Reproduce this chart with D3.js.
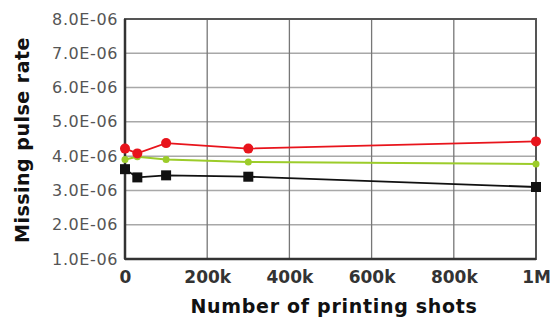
<!DOCTYPE html>
<html><head><meta charset="utf-8">
<script src="https://cdn.jsdelivr.net/npm/d3@7"></script>
<style>body{margin:0;background:#fff}</style>
</head><body>
<svg id="c" width="555" height="320"></svg>
<script>
const shots = [0, 30000, 100000, 300000, 1000000];
const redSeries = [4.22e-6, 4.08e-6, 4.38e-6, 4.22e-6, 4.43e-6];
const greenSeries = [3.9e-6, 3.98e-6, 3.9e-6, 3.83e-6, 3.77e-6];
const blackSeries = [3.62e-6, 3.38e-6, 3.44e-6, 3.4e-6, 3.1e-6];
const yTicks = [1e-6, 2e-6, 3e-6, 4e-6, 5e-6, 6e-6, 7e-6, 8e-6];
const xTicks = [0, 200000, 400000, 600000, 800000, 1000000];
const xTickLabels = ["0", "200k", "400k", "600k", "800k", "1M"];

const svg = d3.select("#c");
const L = 125, R = 536, T = 19, B = 259;
const x = d3.scaleLinear().domain([0, 1000000]).range([L, R]);
const y = d3.scaleLinear().domain([1e-6, 8e-6]).range([B, T]);

// grid
svg.append("g").selectAll("line").data(yTicks).join("line")
  .attr("x1", L).attr("x2", R).attr("y1", d => y(d)).attr("y2", d => y(d))
  .attr("stroke", "#a8a8a8").attr("stroke-width", 1.5);
svg.append("g").selectAll("line").data(xTicks).join("line")
  .attr("y1", T).attr("y2", B).attr("x1", d => x(d)).attr("x2", d => x(d))
  .attr("stroke", "#777").attr("stroke-width", 1.3);

// frame
svg.append("rect").attr("x", L).attr("y", T).attr("width", R - L).attr("height", B - T)
  .attr("fill", "none").attr("stroke", "#555").attr("stroke-width", 2);
svg.append("line").attr("x1", L).attr("x2", L).attr("y1", T).attr("y2", B).attr("stroke", "#333").attr("stroke-width", 2.5);
svg.append("line").attr("x1", L).attr("x2", R).attr("y1", B).attr("y2", B).attr("stroke", "#333").attr("stroke-width", 2.5);

// axes (labels via d3 axis)
const yAxis = d3.axisLeft(y).tickValues(yTicks).tickSize(0).tickPadding(7)
  .tickFormat(d => (d * 1e6).toFixed(1) + "E-06");
const gy = svg.append("g").attr("transform", `translate(${L},0)`).call(yAxis);
gy.select(".domain").remove();
gy.selectAll("text").attr("font-family", "DejaVu Sans, sans-serif")
  .attr("font-size", 16).attr("fill", "#555").attr("letter-spacing", "0.6");

const xAxis = d3.axisBottom(x).tickValues(xTicks).tickSize(0).tickPadding(12)
  .tickFormat((d, i) => xTickLabels[i]);
const gx = svg.append("g").attr("transform", `translate(0,${B})`).call(xAxis);
gx.select(".domain").remove();
gx.selectAll("text").attr("font-family", "DejaVu Sans, sans-serif").attr("font-weight", "bold")
  .attr("font-size", 17).attr("fill", "#333");

// series
const series = [
  {vals: greenSeries, color: "#9ccc2a", shape: "circle", r: 3.5, w: 2},
  {vals: blackSeries, color: "#111", shape: "square", r: 5, w: 1.8},
  {vals: redSeries, color: "#e8141c", shape: "circle", r: 5, w: 1.8}
];
const line = d3.line().x(d => x(d[0])).y(d => y(d[1]));
series.forEach(s => {
  const pts = shots.map((v, i) => [v, s.vals[i]]);
  svg.append("path").attr("d", line(pts)).attr("fill", "none")
    .attr("stroke", s.color).attr("stroke-width", s.w);
  if (s.shape === "circle") {
    svg.append("g").selectAll("circle").data(pts).join("circle")
      .attr("cx", d => x(d[0])).attr("cy", d => y(d[1])).attr("r", s.r).attr("fill", s.color);
  } else {
    svg.append("g").selectAll("rect").data(pts).join("rect")
      .attr("x", d => x(d[0]) - s.r).attr("y", d => y(d[1]) - s.r)
      .attr("width", 2 * s.r).attr("height", 2 * s.r).attr("fill", s.color);
  }
});

// titles
svg.append("text").attr("x", 334).attr("y", 313).attr("text-anchor", "middle")
  .attr("font-family", "DejaVu Sans, sans-serif").attr("font-weight", "bold").attr("font-size", 19)
  .attr("letter-spacing", "0.7").attr("fill", "#111").text("Number of printing shots");
svg.append("text").attr("transform", "translate(29,140) rotate(-90)").attr("text-anchor", "middle")
  .attr("font-family", "DejaVu Sans, sans-serif").attr("font-weight", "bold").attr("font-size", 19)
  .attr("letter-spacing", "0.5").attr("fill", "#111").text("Missing pulse rate");
</script>
</body></html>
